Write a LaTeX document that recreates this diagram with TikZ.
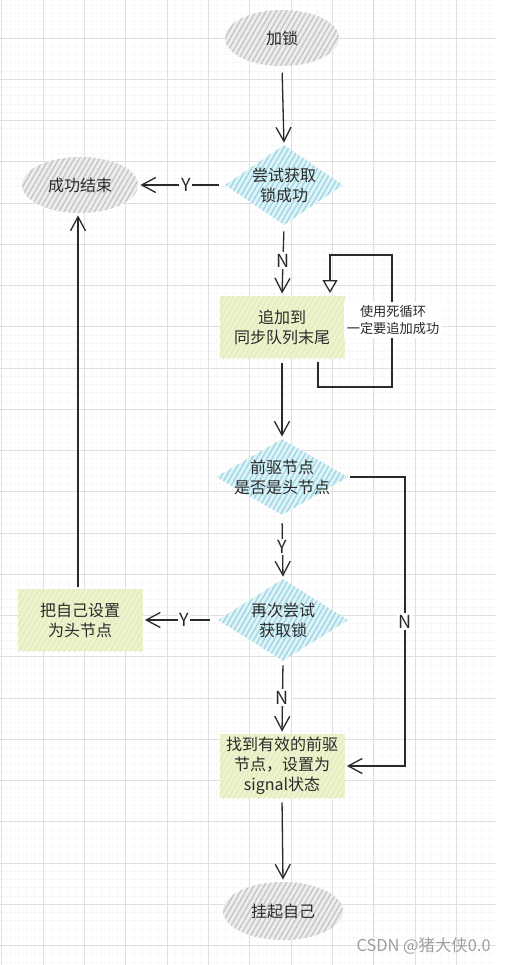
\documentclass[tikz,border=0pt]{standalone}
\usepackage{fontspec}
\setmainfont{Noto Sans CJK SC}
\usetikzlibrary{shapes.geometric,arrows.meta,patterns.meta}
\definecolor{ink}{HTML}{2A2A2A}
\definecolor{gridc}{HTML}{E0E0E0}
\definecolor{gridm}{HTML}{F8F8F8}
\definecolor{grayfill}{HTML}{EDEDED}
\definecolor{grayhatch}{HTML}{C6C6C6}
\definecolor{cyanfill}{HTML}{E0F3F7}
\definecolor{cyanhatch}{HTML}{9ED8E6}
\definecolor{yelfill}{HTML}{EEF3CF}
\definecolor{yelhatch}{HTML}{E2EAB6}
\tikzset{
  txt/.style={text=ink, font=\fontsize{8pt}{10pt}\selectfont, align=center, inner sep=0pt},
  termshape/.style={shape=ellipse, inner sep=0pt, minimum width=57pt, minimum height=28pt,
    preaction={fill=grayfill}, pattern={Lines[angle=60,distance=2.2pt,line width=0.7pt]}, pattern color=grayhatch,
    text=ink, font=\fontsize{8pt}{10pt}\selectfont},
  decshape/.style={shape=diamond, inner sep=0pt,
    preaction={fill=cyanfill}, pattern={Lines[angle=60,distance=2.2pt,line width=0.7pt]}, pattern color=cyanhatch},
  procbox/.style={shape=rectangle, inner sep=0pt, minimum width=62.5pt, minimum height=31pt,
    preaction={fill=yelfill}, pattern={Lines[angle=60,distance=2.2pt,line width=0.5pt]}, pattern color=yelhatch,
    text=ink, font=\fontsize{8pt}{10pt}\selectfont, align=center},
  arr/.style={draw=ink, line width=0.65pt, -{Straight Barb[length=7pt,width=7.5pt,line width=0.65pt]}, shorten >=1pt},
  loopline/.style={draw=ink, line width=0.65pt, -{Triangle[open,length=6.5pt,width=7.5pt,line width=0.65pt,fill=white]}},
  lab/.style={fill=white, text=ink, font=\fontsize{9pt}{10pt}\selectfont, inner sep=0.8pt},
  note/.style={fill=white, text=ink, font=\fontsize{6.6pt}{8.6pt}\selectfont, align=center, inner sep=1.5pt},
  gridline/.style={draw=gridc, line width=0.5pt},
  gridminor/.style={draw=gridm, line width=0.35pt},
}
\begin{document}
\begin{tikzpicture}[x=0.5pt,y=-0.5pt]
\useasboundingbox (0,0) rectangle (506,965);
\fill[white] (0,0) rectangle (506,965);
% grid
\foreach \i in {0,...,59} \draw[gridminor] ({1.7+8.27*\i},0) -- ({1.7+8.27*\i},965);
\foreach \i in {0,...,117} \draw[gridminor] (0,{-3.25+8.25*\i}) -- (496,{-3.25+8.25*\i});
\foreach \i in {0,...,11} \draw[gridline] ({1.7+41.35*\i},0) -- ({1.7+41.35*\i},965);
\foreach \i in {1,...,23} \draw[gridline] (0,{-3.25+41.25*\i}) -- (496,{-3.25+41.25*\i});

% nodes
\node[termshape] (lock) at (282,38) {加锁};
\node[decshape, minimum width=59pt, minimum height=40pt] (d1) at (284,185) {};
\node[txt] (d1t) at (d1.center) {尝试获取\\锁成功};
\node[termshape, minimum width=58pt] (succ) at (80,185) {成功结束};
\node[procbox] (box1) at (282,327) {追加到\\同步队列末尾};
\node[decshape, minimum width=66pt, minimum height=38pt] (d2) at (282,477) {};
\node[txt] (d2t) at (d2.center) {前驱节点\\是否是头节点};
\node[decshape, minimum width=65pt, minimum height=41pt] (d3) at (283,620) {};
\node[txt] (d3t) at (d3.center) {再次尝试\\获取锁};
\node[procbox] (box2) at (80,620) {把自己设置\\为头节点};
\node[procbox, minimum height=32pt] (box3) at (282,766) {找到有效的前驱\\节点，设置为\\signal状态};
\node[termshape, minimum width=60pt, minimum height=29pt] (hang) at (283,911) {挂起自己};

% connectors
\draw[arr, shorten <=3pt] (lock.south) -- (d1.north);
\draw[arr, shorten <=3pt] (d1.west) -- node[lab, pos=0.45] (y1) {Y} (succ.east);
\draw[arr, shorten <=3pt] (d1.south) -- node[lab] (n1) {N} (box1.north);
\draw[arr, shorten <=2pt] (box1.south) -- (d2.north);
\coordinate (nr) at (405,477);
\draw[arr, shorten <=1pt] (d2.east) -- (nr) |- node[lab, pos=0.25] (n2) {N} (box3.east);
\draw[arr, shorten <=4pt] (d2.south) -- node[lab] (y2) {Y} (d3.north);
\draw[arr, shorten <=4pt] (d3.west) -- node[lab, pos=0.45] (y3) {Y} (box2.east);
\draw[arr, shorten <=1pt] (box2.north -| 78,0) -- (succ.south -| 78,0);
\draw[arr, shorten <=2pt] (d3.south) -- node[lab] (n3) {N} (box3.north);
\draw[arr, shorten <=2pt] (box3.south) -- (hang.north);

% self loop
\coordinate (ls) at (318,362);
\coordinate (lr) at (392,387);
\coordinate (lt) at (330,255);
\coordinate (le) at (330,293);
\draw[loopline] (ls) |- (lr) |- (lt) -- (le);
\node[note] (loopnote) at (393,320) {使用死循环\\一定要追加成功};

% watermark
\node[text=gray!75, font=\fontsize{8.2pt}{10pt}\selectfont, anchor=east, inner sep=0pt] (wm) at (491,946) {CSDN @猪大侠0.0};
\end{tikzpicture}
\end{document}
